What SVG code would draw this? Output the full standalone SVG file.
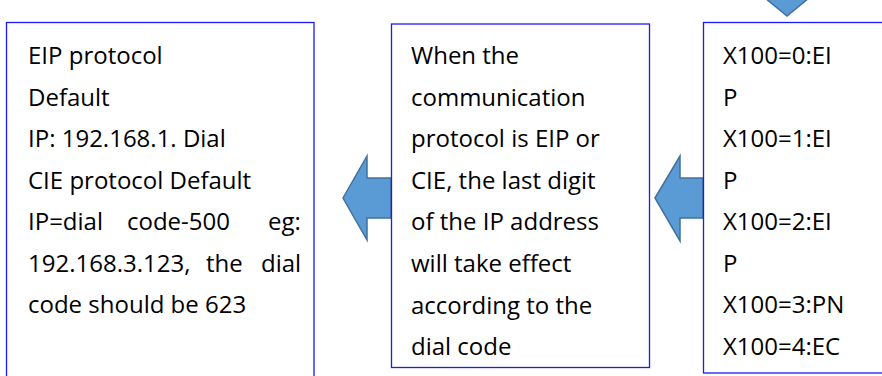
<svg xmlns="http://www.w3.org/2000/svg" width="882" height="376" viewBox="0 0 882 376">
<style>
.box{fill:#ffffff;stroke:#1a1aff;stroke-width:1.3}
.arrow{fill:#5b9bd5;stroke:#41719c;stroke-width:1.5;stroke-linejoin:miter}
text{font-family:"Open Sans","Noto Sans",sans-serif;font-size:24px;fill:#000}
</style>
<rect width="882" height="376" fill="#ffffff"/>
<g id="connectors">
<polygon class="arrow" points="762.6,-4 811.4,-4 787,16"/>
<polygon class="arrow" points="343,198 367,156 367,178 391,178 391,218 367,218 367,240"/>
<polygon class="arrow" points="655,198 680,156 680,178 703,178 703,218 680,218 680,241"/>
</g>
<g id="node-left">
<rect class="box" x="6.5" y="22.5" width="307.5" height="360"/>
<text x="28" y="64">EIP protocol</text>
<text x="28" y="105.5">Default</text>
<text x="28" y="147">IP: 192.168.1. Dial</text>
<text x="28" y="188.5">CIE protocol Default</text>
<text y="230"><tspan x="28">IP=dial</tspan><tspan x="127">code-500</tspan><tspan x="268">eg:</tspan></text>
<text y="271.5"><tspan x="28">192.168.3.123,</tspan><tspan x="206">the</tspan><tspan x="261">dial</tspan></text>
<text x="28" y="313">code should be 623</text>
</g>
<g id="node-middle">
<rect class="box" x="391.5" y="24" width="258" height="343.5"/>
<text x="411" y="64">When the</text>
<text x="411" y="105.6">communication</text>
<text x="411" y="147.2">protocol is EIP or</text>
<text x="411" y="188.8">CIE, the last digit</text>
<text x="411" y="230.4">of the IP address</text>
<text x="411" y="272">will take effect</text>
<text x="411" y="313.6">according to the</text>
<text x="411" y="355.2">dial code</text>
</g>
<g id="node-right">
<rect class="box" x="703.5" y="22.5" width="200" height="350.5"/>
<text x="723" y="64">X100=0:EI</text>
<text x="723" y="105.5">P</text>
<text x="723" y="147">X100=1:EI</text>
<text x="723" y="188.5">P</text>
<text x="723" y="230">X100=2:EI</text>
<text x="723" y="271.5">P</text>
<text x="723" y="313">X100=3:PN</text>
<text x="723" y="354.5">X100=4:EC</text>
</g>
</svg>
